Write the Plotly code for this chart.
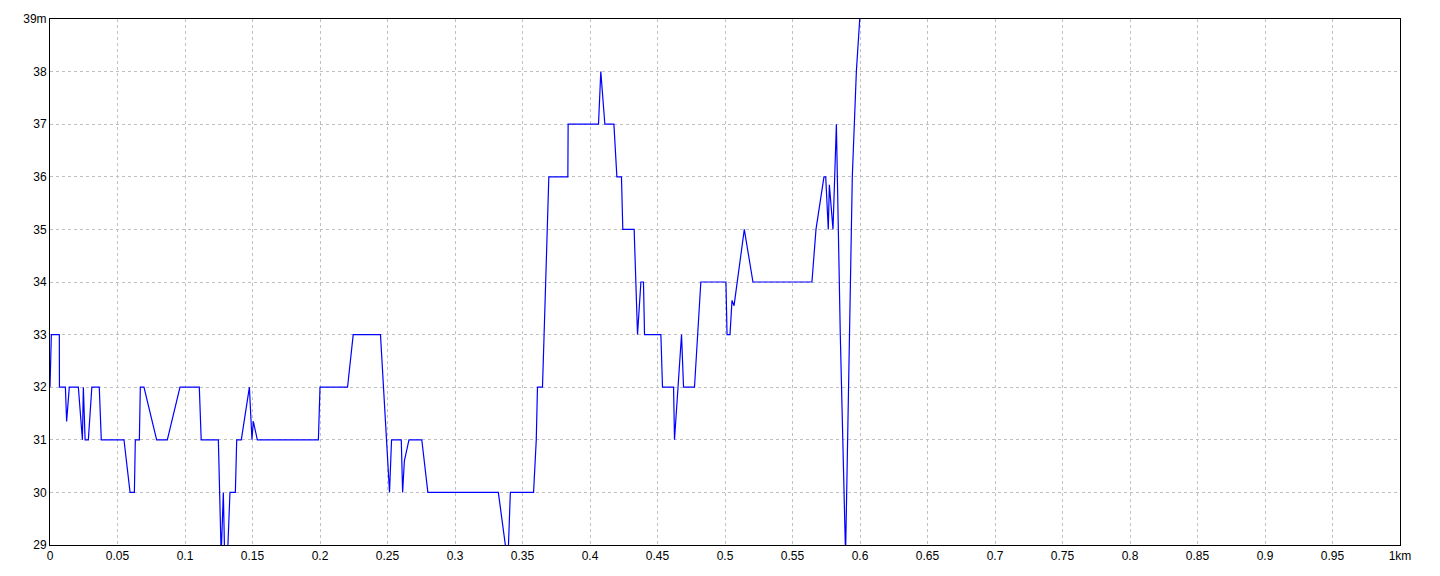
import plotly.graph_objects as go

# distance along route (km) and elevation (m)
dist_km = [
    0, 0.001, 0.0069, 0.007, 0.0114, 0.0123, 0.0143, 0.021, 0.024, 0.0247,
    0.026, 0.0284, 0.031, 0.0365, 0.038, 0.0548, 0.0593, 0.0625, 0.0632, 0.0662,
    0.0669, 0.0696, 0.079, 0.0869, 0.0963, 0.1106, 0.112, 0.1247, 0.1268, 0.1284,
    0.1295, 0.1318, 0.1333, 0.1373, 0.1383, 0.1417, 0.1477, 0.1496, 0.1506, 0.1536,
    0.1988, 0.2, 0.2204, 0.2246, 0.2448, 0.249, 0.2515, 0.253, 0.2602, 0.2612,
    0.2625, 0.2659, 0.2754, 0.2799, 0.3321, 0.3373, 0.3385, 0.3396, 0.341, 0.3582,
    0.3602, 0.3611, 0.3648, 0.366, 0.3673, 0.3683, 0.3695, 0.3836, 0.3838, 0.4063,
    0.408, 0.411, 0.4177, 0.4199, 0.4233, 0.4243, 0.4327, 0.4352, 0.4377, 0.4396,
    0.4404, 0.4525, 0.4537, 0.4619, 0.4626, 0.4678, 0.4693, 0.4774, 0.4821, 0.5007,
    0.5015, 0.5037, 0.5052, 0.5067, 0.5143, 0.5207, 0.5644, 0.5674, 0.5733, 0.5746,
    0.5765, 0.5773, 0.58, 0.5825, 0.5839, 0.5854, 0.5893, 0.5923, 0.5943, 0.5973,
    0.5998, 0.6025,
]
elev_m = [
    32, 33, 33, 32, 32, 31.35, 32, 32, 31, 32,
    31, 31, 32, 32, 31, 31, 30, 30, 31, 31,
    32, 32, 31, 31, 32, 32, 31, 31, 28.8, 30,
    28.6, 29, 30, 30, 31, 31, 32, 31, 31.35, 31,
    31, 32, 32, 33, 33, 31, 30, 31, 31, 30,
    30.6, 31, 31, 30, 30, 29, 28.7, 29, 30, 30,
    31, 32, 32, 33, 34, 35, 36, 36, 37, 37,
    38, 37, 37, 36, 36, 35, 35, 33, 34, 34,
    33, 33, 32, 32, 31, 33, 32, 32, 34, 34,
    33, 33, 33.65, 33.55, 35, 34, 34, 35, 36, 36,
    35, 35.85, 35, 37, 35, 33, 28.8, 33, 36, 38,
    39, 39.6,
]

x_ticks = [round(i * 0.05, 2) for i in range(21)]
x_labels = ["0"] + [f"{v:g}" for v in x_ticks[1:-1]] + ["1km"]
y_ticks = list(range(29, 40))
y_labels = [str(v) for v in y_ticks[:-1]] + ["39m"]

fig = go.Figure(
    go.Scatter(
        x=dist_km, y=elev_m, mode="lines",
        line=dict(color="#0000ff", width=1.2),
        hoverinfo="x+y",
    )
)

axis_common = dict(
    showline=True, mirror=True, linecolor="black", linewidth=1,
    showgrid=True, gridcolor="#c0c0c0", griddash="3px,3px", gridwidth=1,
    zeroline=False, ticks="", automargin=False,
    tickfont=dict(family="Liberation Sans", size=12, color="black"),
)

fig.update_layout(
    width=1440, height=576,
    margin=dict(l=50, r=40, t=19, b=31),
    plot_bgcolor="white", paper_bgcolor="white",
    showlegend=False,
    xaxis=dict(range=[0, 1], tickvals=x_ticks, ticktext=x_labels, **axis_common),
    yaxis=dict(range=[29, 39], tickvals=y_ticks, ticktext=y_labels, **axis_common),
)

fig.write_html(
    "out.html",
    config={"displayModeBar": False},
    post_script="document.body.style.margin='0';document.body.style.overflow='hidden';",
)
